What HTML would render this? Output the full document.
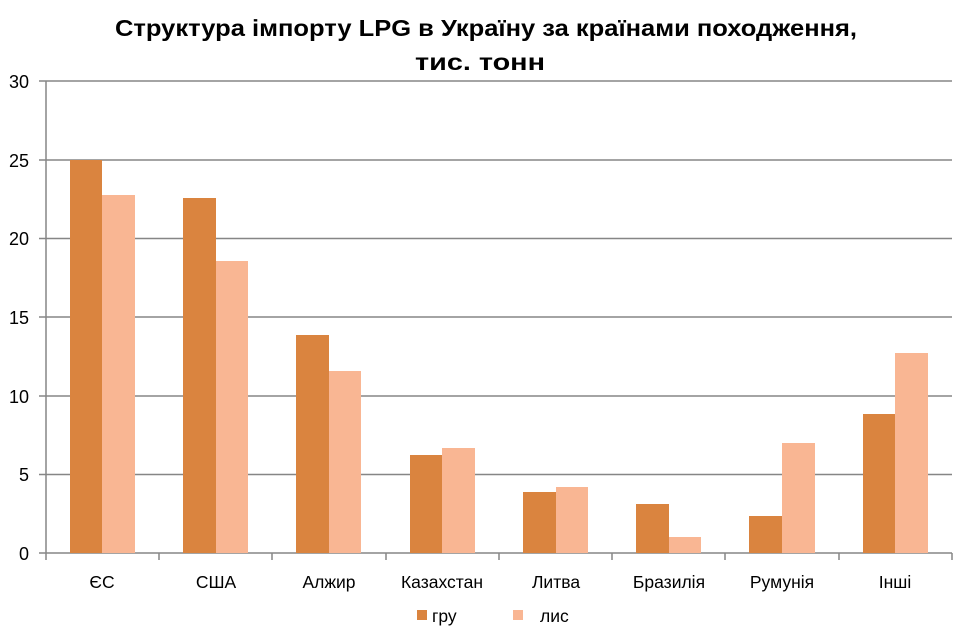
<!DOCTYPE html>
<html><head><meta charset="utf-8"><style>body{margin:0;background:#fff}</style></head><body>
<svg width="957" height="628" xmlns="http://www.w3.org/2000/svg" font-family="Liberation Sans, DejaVu Sans, sans-serif">
<text x="115" y="36" font-size="23" font-weight="bold" textLength="742" lengthAdjust="spacingAndGlyphs">Структура імпорту LPG в Україну за країнами походження,</text>
<text x="415" y="70" font-size="23" font-weight="bold" textLength="130" lengthAdjust="spacingAndGlyphs">тис. тонн</text>
<g stroke="#868686" stroke-width="1.5">
<line x1="39" y1="81" x2="952" y2="81"/><line x1="39" y1="160" x2="952" y2="160"/><line x1="39" y1="238.5" x2="952" y2="238.5"/><line x1="39" y1="317" x2="952" y2="317"/><line x1="39" y1="396" x2="952" y2="396"/><line x1="39" y1="474.5" x2="952" y2="474.5"/><line x1="39" y1="553" x2="952" y2="553"/>
<line x1="46" y1="81" x2="46" y2="560"/>
<line x1="159" y1="553" x2="159" y2="560"/><line x1="272" y1="553" x2="272" y2="560"/><line x1="386" y1="553" x2="386" y2="560"/><line x1="499" y1="553" x2="499" y2="560"/><line x1="612" y1="553" x2="612" y2="560"/><line x1="725" y1="553" x2="725" y2="560"/><line x1="839" y1="553" x2="839" y2="560"/><line x1="952" y1="553" x2="952" y2="560"/>
</g>
<g font-size="18" text-anchor="end">
<text x="29" y="88">30</text><text x="29" y="167">25</text><text x="29" y="245">20</text><text x="29" y="324">15</text><text x="29" y="403">10</text><text x="29" y="481">5</text><text x="29" y="560">0</text>
</g>
<g fill="#DA843F">
<rect x="70" y="160" width="32" height="393"/><rect x="183" y="198" width="33" height="355"/><rect x="296" y="335" width="33" height="218"/><rect x="410" y="455" width="32" height="98"/><rect x="523" y="492" width="33" height="61"/><rect x="636" y="504" width="33" height="49"/><rect x="749" y="516" width="33" height="37"/><rect x="863" y="414" width="32" height="139"/>
</g>
<g fill="#F9B693">
<rect x="102" y="195" width="33" height="358"/><rect x="216" y="261" width="32" height="292"/><rect x="329" y="371" width="32" height="182"/><rect x="442" y="448" width="33" height="105"/><rect x="556" y="487" width="32" height="66"/><rect x="669" y="537" width="32" height="16"/><rect x="782" y="443" width="33" height="110"/><rect x="895" y="353" width="33" height="200"/>
</g>
<g font-size="17.5" text-anchor="middle">
<text x="102" y="588">ЄС</text><text x="216" y="588">США</text><text x="329" y="588">Алжир</text><text x="442" y="588">Казахстан</text><text x="556" y="588">Литва</text><text x="669" y="588">Бразилія</text><text x="782" y="588">Румунія</text><text x="895" y="588">Інші</text>
</g>
<rect x="417" y="610" width="10" height="10" fill="#DA843F"/><text x="432" y="622" font-size="17.5">гру</text>
<rect x="513" y="610" width="10" height="10" fill="#F9B693"/><text x="540" y="622" font-size="17.5">лис</text>
</svg>
</body></html>
